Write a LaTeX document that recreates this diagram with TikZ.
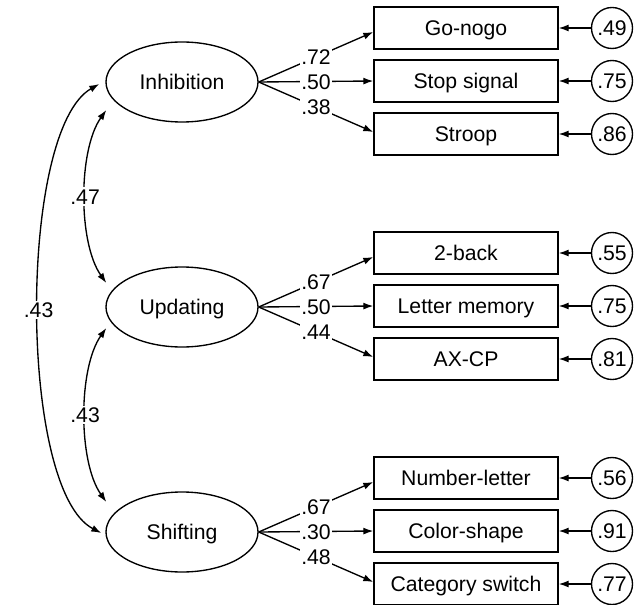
\documentclass[tikz,border=0pt]{standalone}
\usepackage{fontspec}
\setmainfont{Liberation Sans}
\usetikzlibrary{shapes.geometric,arrows.meta,calc}
\begin{document}
\begin{tikzpicture}[x=1pt,y=-1pt,
  every node/.style={font=\fontsize{21.2}{25}\selectfont,text height=15.2pt,text depth=0pt},
  latent/.style={draw,ellipse,line width=1.35pt,minimum width=152pt,minimum height=80pt,inner sep=0pt},
  obs/.style={draw,rectangle,line width=1.35pt,minimum width=184pt,minimum height=42pt,inner sep=0pt},
  err/.style={draw,circle,line width=1.35pt,minimum size=41pt,inner sep=0pt},
  arr/.style={-{Latex[length=10pt,width=7pt]},line width=1.35pt},
  darr/.style={{Latex[length=10pt,width=7pt]}-{Latex[length=10pt,width=7pt]},line width=1.35pt},
  coef/.style={fill=white,inner sep=1.5pt}
]
\clip (0,0) rectangle (644,604);
\fill[white] (0,0) rectangle (644,604);

% latent factors
\node[latent] (inh) at (182,82) {Inhibition};
\node[latent] (upd) at (182,307) {Updating};
\node[latent] (shf) at (182,532) {Shifting};

% observed tasks
\node[obs] (go)  at (466,28)  {Go-nogo};
\node[obs] (ss)  at (466,81)  {Stop signal};
\node[obs] (st)  at (466,134) {Stroop};
\node[obs] (tb)  at (466,253) {2-back};
\node[obs] (lm)  at (466,306) {Letter memory};
\node[obs] (ax)  at (466,359) {AX-CP};
\node[obs] (nl)  at (466,478) {Number-letter};
\node[obs] (cs)  at (466,531) {Color-shape};
\node[obs] (cw)  at (466,584) {Category switch};

% error terms
\node[err] (e1) at (612,28)  {.49};
\node[err] (e2) at (612,81)  {.75};
\node[err] (e3) at (612,134) {.86};
\node[err] (e4) at (612,253) {.55};
\node[err] (e5) at (612,306) {.75};
\node[err] (e6) at (612,359) {.81};
\node[err] (e7) at (612,478) {.56};
\node[err] (e8) at (612,531) {.91};
\node[err] (e9) at (612,584) {.77};

% loadings
\draw[arr] (inh.east) -- ($(go.west)+(0,4)$) node[coef,midway] {.72};
\draw[arr] (inh.east) -- (ss.west) node[coef,midway] {.50};
\draw[arr] (inh.east) -- ($(st.west)+(0,-2)$) node[coef,midway] {.38};
\draw[arr] (upd.east) -- ($(tb.west)+(0,4)$) node[coef,midway] {.67};
\draw[arr] (upd.east) -- (lm.west) node[coef,midway] {.50};
\draw[arr] (upd.east) -- ($(ax.west)+(0,-2)$) node[coef,midway] {.44};
\draw[arr] (shf.east) -- ($(nl.west)+(0,4)$) node[coef,midway] {.67};
\draw[arr] (shf.east) -- (cs.west) node[coef,midway] {.30};
\draw[arr] (shf.east) -- ($(cw.west)+(0,-2)$) node[coef,midway] {.48};

% error arrows
\foreach \e/\b in {e1/go,e2/ss,e3/st,e4/tb,e5/lm,e6/ax,e7/nl,e8/cs,e9/cw}
  \draw[arr] (\e.west) -- (\b.east);

% correlations
\coordinate (i1) at ($(inh.west)+(-6,2)$);
\coordinate (i2) at ($(inh.west)+(1,28)$);
\coordinate (u1) at ($(upd.west)+(1,-24)$);
\coordinate (u2) at ($(upd.west)+(1,21)$);
\coordinate (s1) at ($(shf.west)+(1,-30)$);
\coordinate (s2) at ($(shf.west)+(-4,1)$);

\draw[darr] (i2) .. controls (78,150) and (78,243) .. (u1) node[coef,pos=0.5] {.47};
\draw[darr] (u2) .. controls (78,368) and (78,462) .. (s1) node[coef,pos=0.5] {.43};
\draw[darr] (i1) .. controls (18,130) and (18,490) .. (s2) node[coef,pos=0.5] {.43};
\end{tikzpicture}
\end{document}
